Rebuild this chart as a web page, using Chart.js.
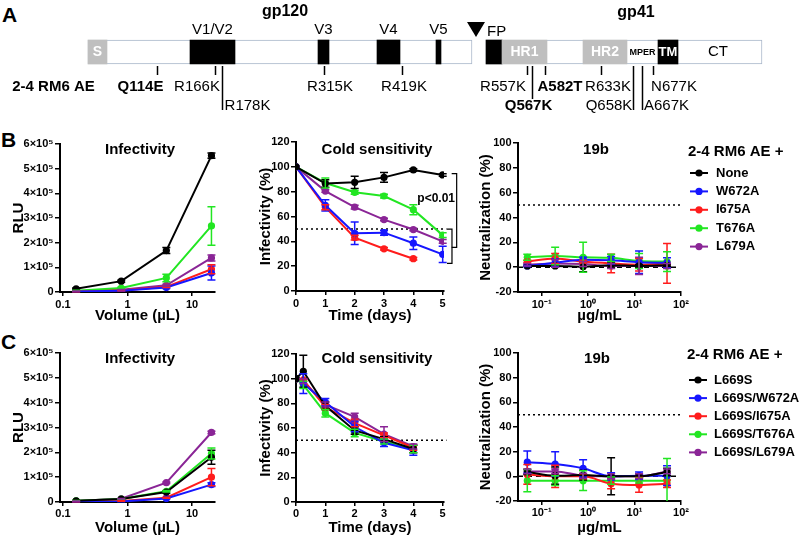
<!DOCTYPE html>
<html lang="en">
<head>
<meta charset="utf-8">
<title>2-4 RM6 AE Env variants</title>
<script src="https://cdn.jsdelivr.net/npm/chart.js@4.4.1/dist/chart.umd.min.js"></script>
<style>
  html, body { margin: 0; padding: 0; background: #fff; }
  #page { position: relative; width: 800px; height: 538px; overflow: hidden; font-family: "Liberation Sans", Arial, sans-serif; }
  .panel { position: absolute; }
  .letter { position: absolute; font-size: 21px; line-height: 21px; font-weight: bold; color: #000; }
</style>
</head>
<body>
<div id="page">
  <div class="letter" style="left:2px;top:4px">A</div>
  <div class="letter" style="left:1px;top:129px">B</div>
  <div class="letter" style="left:1px;top:331px">C</div>
</div>
<script>
const FONT = "'Liberation Sans', Arial, sans-serif";
Chart.defaults.font.family = FONT;
Chart.defaults.color = "#000";

// ---------- panel A: positions along the schematic env bar ----------
const subunits = ["gp120", "gp41"];
const subunitStart = [88, 486];
const subunitEnd = [472, 762];
const subunitLabelAt = [285, 636];
const domains = ["S", "V1/V2", "V3", "V4", "V5", "FP", "HR1", "HR2", "TM"];
const domainStart = [88, 190, 318, 377, 436, 486, 502, 583, 658];
const domainEnd = [107, 235, 329, 400, 441, 502, 547, 627, 678];
const mutations = ["Q114E", "R166K", "R178K", "R315K", "R419K", "R557K", "Q567K", "A582T", "R633K", "Q658K", "A667K", "N677K"];
const mutationSite = [157, 215, 222, 324, 402, 527, 532, 545, 601, 633, 642, 653];

// ---------- panels B and C ----------
const volumes = [0.16, 0.8, 4, 20];
const daysB = [0, 1, 2, 3, 4, 5];
const daysC = [0, 0.25, 1, 2, 3, 4];
const conc = [0.049, 0.195, 0.78, 3.125, 12.5, 50];

const rluTicks = [0, 1e5, 2e5, 3e5, 4e5, 5e5, 6e5];
const pctTicks = [0, 20, 40, 60, 80, 100, 120];
const dayTicks = [0, 1, 2, 3, 4, 5];
const neutTicks = [-20, 0, 20, 40, 60, 80, 100];
const volTicks = [0.1, 1, 10];
const concTicks = [0.1, 1, 10, 100];

const variantsB = ["None", "W672A", "I675A", "T676A", "L679A"];
const variantsC = ["L669S", "L669S/W672A", "L669S/I675A", "L669S/T676A", "L669S/L679A"];

// rows follow the variant order; *Err = error bar half length
const rluB = [
  [13000, 44000, 168000, 553000],
  [2000, 5000, 18000, 77000],
  [2000, 6000, 21000, 92000],
  [5000, 16000, 57000, 268000],
  [3000, 9000, 27000, 138000]
];
const rluBErr = [
  [3000, 4000, 12000, 11000],
  [1000, 1500, 4000, 28000],
  [1000, 1000, 3000, 18000],
  [2000, 3000, 15000, 78000],
  [1000, 1000, 4000, 12000]
];
const coldB = [
  [100, 86.5, 87.5, 91.5, 97.5, 93.5],
  [100, 69, 46.5, 47, 38.5, 29.5],
  [100, 67.5, 43, 34, 26, null],
  [100, 87, 79.5, 76.5, 65.5, 45],
  [100, 80.5, 67.5, 57.5, 49.5, 40]
];
const coldBErr = [
  [0, 3, 5, 4, 1, 1],
  [0, 4.5, 9, 2, 5, 6.5],
  [0, 2, 2, 1, 1, 0],
  [0, 4, 1.5, 1.5, 4, 2],
  [0, 1, 1.5, 1, 1, 1.5]
];
const neutB = [
  [1, 1, 0.3, 1.5, 1, 1.5],
  [1, 3.5, 6, 5.5, 4, 3.5],
  [4.5, 7, 4.5, 3, 2, 3],
  [8, 9, 8, 7.5, 5, 4.5],
  [2, 3, 2.5, 1, 1, 1]
];
const neutBErr = [
  [0.5, 1, 4, 2, 1, 1],
  [0.5, 3, 2, 3, 9, 4],
  [1, 4, 1, 7.5, 5, 16],
  [2.5, 7, 12, 3, 6, 8],
  [1, 3, 2, 2, 7, 2]
];
const rluC = [
  [5000, 12000, 40000, 180000],
  [1000, 2000, 14000, 70000],
  [2000, 4000, 17000, 100000],
  [5000, 12000, 43000, 195000],
  [4000, 13000, 78000, 280000]
];
const rluCErr = [
  [1000, 1000, 5000, 28000],
  [500, 500, 2000, 8000],
  [500, 1000, 2000, 35000],
  [1000, 1000, 3000, 22000],
  [500, 1000, 3000, 5000]
];
const coldC = [
  [100, 106, 78, 58, 51, 43],
  [100, 96, 81, 61, 48, 42],
  [100, 99, 77, 64, 54, 44],
  [100, 95, 72, 56, 49, 43],
  [100, 98, 79, 69, 55, 45]
];
const coldCErr = [
  [0, 13, 3, 3, 2, 3],
  [0, 8, 3, 4, 3, 4],
  [0, 1, 2, 3, 2, 2],
  [0, 3, 3, 3, 2, 3],
  [0, 2, 2, 3, 6, 2]
];
const neutC = [
  [3.5, 0.5, 1, 0, 0, 3.5],
  [11.5, 10, 6.5, 0, 0.5, 0.5],
  [1.5, 0, 0, -6, -7, -6],
  [-3.5, -3.5, -3.5, -3.5, -3.5, -3.5],
  [4, 4, 0.5, 0, 0, 4]
];
const neutCErr = [
  [2, 7, 4, 15, 2, 3],
  [9, 10, 7, 3, 3, 8],
  [8, 9, 2, 4, 6, 3],
  [9, 4, 8, 3, 2, 18],
  [2, 2, 2, 2, 2, 2]
];
const halfLevel = 50;
const baseLevel = 0;

// ---------- styles ----------
const COLORS = ["#000000", "#1616ff", "#ff1c1c", "#22e622", "#8a2596"];
const domainFill = { S: "#bfbfbf", HR1: "#bfbfbf", HR2: "#bfbfbf" };
const domainText = {
  S: { where: "in", color: "#fff", font: "bold 14px" },
  "V1/V2": { where: "above" }, V3: { where: "above" }, V4: { where: "above" }, V5: { where: "above" },
  FP: { where: "fp" },
  HR1: { where: "in", color: "#fff", font: "bold 14px" },
  HR2: { where: "in", color: "#fff", font: "bold 14px" },
  TM: { where: "in", color: "#fff", font: "bold 13px" }
};
// label offset from the tick, row 1 = long line with label below
const mutLabel = {
  Q114E: { dx: -17, bold: true }, R166K: { dx: -18.5 }, R178K: { dx: 25, row: 1 },
  R315K: { dx: 5.5 }, R419K: { dx: 1.5 }, R557K: { dx: -24.5 },
  Q567K: { dx: -4, row: 1, bold: true, under: true }, A582T: { dx: 14.5, bold: true },
  R633K: { dx: 6.5 }, Q658K: { dx: -24.5, row: 1 }, A667K: { dx: 24, row: 1 }, N677K: { dx: 20.5 }
};

function sup(n) {
  const m = { "-": "\u207B", "0": "\u2070", "1": "\u00B9", "2": "\u00B2", "3": "\u00B3", "4": "\u2074", "5": "\u2075", "6": "\u2076", "7": "\u2077", "8": "\u2078", "9": "\u2079" };
  return String(n).split("").map(c => m[c]).join("");
}

function addCanvas(left, top, right, bottom) {
  const div = document.createElement("div");
  div.className = "panel";
  div.style.left = left + "px";
  div.style.top = top + "px";
  div.style.width = (right - left) + "px";
  div.style.height = (bottom - top) + "px";
  const c = document.createElement("canvas");
  c.width = right - left;
  c.height = bottom - top;
  div.appendChild(c);
  document.getElementById("page").appendChild(div);
  return c;
}

// ---------- panel A ----------
const envText = {
  id: "envText",
  afterDatasetsDraw(chart) {
    const ctx = chart.ctx;
    const px = v => chart.scales.x.getPixelForValue(v);
    const yc = chart.scales.y.getPixelForValue(0);
    const barBot = yc + 12;
    ctx.save();
    ctx.fillStyle = "#000";
    ctx.textBaseline = "middle";
    ctx.textAlign = "center";

    ctx.font = "bold 16px " + FONT;
    subunits.forEach((s, i) => ctx.fillText(s, px(subunitLabelAt[i]), yc - 40 + i));

    domains.forEach((d, i) => {
      const st = domainText[d];
      const mid = px((domainStart[i] + domainEnd[i]) / 2);
      if (st.where === "above") {
        ctx.fillStyle = "#000"; ctx.font = "15px " + FONT;
        ctx.fillText(d, mid, yc - 22);
      } else if (st.where === "in") {
        ctx.fillStyle = st.color; ctx.font = st.font + " " + FONT;
        ctx.fillText(d, mid, yc);
      } else if (st.where === "fp") {
        ctx.fillStyle = "#000"; ctx.font = "15px " + FONT;
        ctx.textAlign = "left";
        ctx.fillText(d, px(domainStart[i]) + 1, yc - 20);
        ctx.textAlign = "center";
        // cleavage site between gp120 and gp41
        const cx = px(subunitEnd[0]) + 4;
        ctx.beginPath();
        ctx.moveTo(cx - 9, yc - 30); ctx.lineTo(cx + 9, yc - 30); ctx.lineTo(cx, yc - 15);
        ctx.closePath(); ctx.fill();
      }
    });
    // unboxed regions of gp41
    ctx.fillStyle = "#000";
    ctx.font = "bold 9px " + FONT;
    ctx.fillText("MPER", px((domainEnd[7] + domainStart[8]) / 2), yc + 1);
    ctx.font = "15px " + FONT;
    ctx.fillText("CT", px((domainEnd[8] + subunitEnd[1]) / 2) - 2, yc);

    // mutations
    ctx.font = "bold 15px " + FONT;
    ctx.fillText("2-4 RM6 AE", 53.5, barBot + 23);
    ctx.strokeStyle = "#000";
    ctx.lineWidth = 1.5;
    mutations.forEach((m, i) => {
      const st = mutLabel[m];
      const x = Math.round(px(mutationSite[i])) + 0.5;
      const end = st.row ? (st.under ? barBot + 35 : barBot + 46) : barBot + 11;
      ctx.beginPath(); ctx.moveTo(x, barBot + 2); ctx.lineTo(x, end); ctx.stroke();
      ctx.font = (st.bold ? "bold " : "") + "15px " + FONT;
      ctx.fillText(m, x + st.dx, st.row ? barBot + 42 : barBot + 23);
    });
    ctx.restore();
  }
};

new Chart(addCanvas(0, 0, 800, 120), {
  type: "bar",
  data: {
    labels: ["env"],
    datasets: [
      {
        label: "subunits",
        data: subunits.map((s, i) => ({ x: [subunitStart[i], subunitEnd[i]], y: "env" })),
        backgroundColor: "#ffffff",
        borderColor: "#a9b7ca",
        borderWidth: 1,
        borderSkipped: false,
        barThickness: 24,
        grouped: false,
        order: 2
      },
      {
        label: "domains",
        data: domains.map((d, i) => ({ x: [domainStart[i], domainEnd[i]], y: "env" })),
        backgroundColor: domains.map(d => domainFill[d] || "#000000"),
        borderWidth: 0,
        barThickness: 24,
        grouped: false,
        order: 1
      }
    ]
  },
  options: {
    indexAxis: "y",
    responsive: false,
    animation: false,
    layout: { padding: { left: 0, right: 0, top: 0, bottom: 16 } },
    scales: {
      x: { type: "linear", min: 0, max: 800, display: false },
      y: { display: false }
    },
    plugins: { legend: { display: false }, tooltip: { enabled: false } }
  },
  plugins: [envText]
});

// ---------- plugins for the line panels ----------
const errorBars = {
  id: "errorBars",
  afterDatasetsDraw(chart) {
    const ctx = chart.ctx, y = chart.scales.y, area = chart.chartArea;
    chart.data.datasets.forEach((ds, i) => {
      if (!ds.errors) return;
      const meta = chart.getDatasetMeta(i);
      ctx.save();
      ctx.strokeStyle = ds.borderColor;
      ctx.lineWidth = 1.5;
      meta.data.forEach((pt, j) => {
        const e = ds.errors[j], v = ds.data[j].y;
        if (!e || v == null) return;
        const top = y.getPixelForValue(v + e);
        const bot = Math.min(y.getPixelForValue(v - e), area.bottom);
        ctx.beginPath();
        ctx.moveTo(pt.x, top); ctx.lineTo(pt.x, bot);
        ctx.moveTo(pt.x - 4, top); ctx.lineTo(pt.x + 4, top);
        if (bot < area.bottom) { ctx.moveTo(pt.x - 4, bot); ctx.lineTo(pt.x + 4, bot); }
        ctx.stroke();
      });
      ctx.restore();
    });
  }
};

const panelTitle = {
  id: "panelTitle",
  afterDraw(chart, args, o) {
    const a = chart.chartArea, ctx = chart.ctx;
    ctx.save();
    ctx.font = "bold 15px " + FONT;
    ctx.fillStyle = "#000";
    ctx.textAlign = "center";
    ctx.textBaseline = "middle";
    ctx.fillText(o.text, (a.left + a.right) / 2 + o.dx, a.top + o.dy);
    ctx.restore();
  }
};

const sideLegend = {
  id: "sideLegend",
  afterDraw(chart, args, o) {
    const a = chart.chartArea, ctx = chart.ctx;
    ctx.save();
    ctx.textAlign = "left";
    ctx.textBaseline = "middle";
    ctx.fillStyle = "#000";
    ctx.font = "bold 15px " + FONT;
    ctx.fillText(o.title, a.right + o.titleX, a.top + o.titleY);
    ctx.font = "bold 13px " + FONT;
    chart.data.datasets.filter(d => d.legendItem).forEach((d, i) => {
      const y = a.top + o.firstY + i * o.step;
      const x0 = a.right + o.titleX + 2;
      ctx.strokeStyle = d.borderColor;
      ctx.lineWidth = 2;
      ctx.beginPath(); ctx.moveTo(x0, y); ctx.lineTo(x0 + 18, y); ctx.stroke();
      ctx.fillStyle = d.borderColor;
      ctx.beginPath(); ctx.arc(x0 + 9, y, 3.6, 0, Math.PI * 2); ctx.fill();
      ctx.fillStyle = "#000";
      ctx.fillText(d.label, a.right + o.textX, y);
    });
    ctx.restore();
  }
};

const brackets = {
  id: "brackets",
  afterDraw(chart, args, o) {
    const ctx = chart.ctx, x = chart.scales.x, y = chart.scales.y;
    ctx.save();
    ctx.strokeStyle = "#000";
    ctx.lineWidth = 1.2;
    o.items.forEach(it => {
      const px = x.getPixelForValue(it.at);
      const y0 = y.getPixelForValue(it.from), y1 = y.getPixelForValue(it.to);
      ctx.beginPath();
      ctx.moveTo(px - 5, y0); ctx.lineTo(px, y0); ctx.lineTo(px, y1); ctx.lineTo(px - 5, y1);
      ctx.stroke();
    });
    ctx.font = "bold 12px " + FONT;
    ctx.fillStyle = "#000";
    ctx.textAlign = "right";
    ctx.textBaseline = "middle";
    ctx.fillText(o.text, x.getPixelForValue(o.textAt), y.getPixelForValue(o.textLevel));
    ctx.restore();
  }
};

function series(names, xs, ys, errs, smooth) {
  return names.map((name, k) => ({
    label: name,
    legendItem: true,
    data: xs.map((x, i) => ({ x, y: ys[k][i] })),
    errors: errs[k],
    borderColor: COLORS[k],
    backgroundColor: COLORS[k],
    pointBackgroundColor: COLORS[k],
    pointBorderWidth: 0,
    pointRadius: 3.6,
    borderWidth: 2,
    cubicInterpolationMode: smooth ? "monotone" : "default"
  }));
}

function refLine(level, x0, x1, dash) {
  return {
    data: [{ x: x0, y: level }, { x: x1, y: level }],
    borderColor: "#000",
    borderWidth: 1.5,
    borderDash: dash,
    pointRadius: 0,
    clip: false,
    order: 10
  };
}

function plot(c) {
  // c.area = plot rectangle on the page, c.box = canvas rectangle on the page
  const [l, t, r, b] = c.area;
  const [L, T, R, B] = c.box;
  const tickFont = { size: 11, weight: "bold" };
  const titleFont = { size: 15, weight: "bold", lineHeight: 1.2 };
  return new Chart(addCanvas(L, T, R, B), {
    type: "line",
    data: { datasets: c.datasets },
    options: {
      responsive: false,
      animation: false,
      layout: { padding: { left: 0, top: t - T, right: R - r, bottom: 0 } },
      scales: {
        x: {
          type: c.xType, min: c.xMin, max: c.xMax,
          afterBuildTicks: s => { s.ticks = c.xTicks.map(v => ({ value: v })); },
          afterFit: s => { s.height = B - b; },
          grid: { display: true, drawOnChartArea: false, drawTicks: true, tickLength: 4, color: "#000", lineWidth: 1.5 },
          border: { display: true, color: "#000", width: 2 },
          ticks: { callback: c.xFmt, font: tickFont, color: "#000", padding: c.xPad, maxRotation: 0, autoSkip: false },
          title: { display: true, text: c.xTitle, font: titleFont, color: "#000", padding: { top: 0, bottom: B - c.xTitleY - 9 } }
        },
        y: {
          type: "linear", min: c.yMin, max: c.yMax,
          afterBuildTicks: s => { s.ticks = c.yTicks.map(v => ({ value: v })); },
          afterFit: s => { s.width = l - L; },
          grid: { display: true, drawOnChartArea: false, drawTicks: true, tickLength: 5, color: "#000", lineWidth: 1.5 },
          border: { display: true, color: "#000", width: 2 },
          ticks: { callback: c.yFmt, font: tickFont, color: "#000", padding: 1.5 },
          title: { display: true, text: c.yTitle, font: titleFont, color: "#000", padding: { top: c.yTitleX - L - 9, bottom: 0 } }
        }
      },
      plugins: {
        legend: { display: false },
        tooltip: { enabled: false },
        panelTitle: c.title,
        sideLegend: c.legend || false,
        brackets: c.brackets || false
      }
    },
    plugins: [errorBars, panelTitle, sideLegend, brackets]
  });
}

const rluFmt = v => v === 0 ? "0" : (v / 1e5) + "\u00D710" + sup(5);
const numFmt = v => String(v);
const powFmt = v => "10" + sup(Math.round(Math.log10(v)));

const infAxes = {
  xType: "logarithmic", xMin: 0.09, xMax: 22.7, xTicks: volTicks, xFmt: numFmt, xTitle: "Volume (\u00B5L)",
  yMin: 0, yMax: 6e5, yTicks: rluTicks, yFmt: rluFmt, yTitle: "RLU", yTitleX: 19
};
const coldAxes = {
  xType: "linear", xMin: 0, xMax: 5.045, xTicks: dayTicks, xFmt: numFmt, xTitle: "Time (days)",
  yMin: 0, yMax: 120, yTicks: pctTicks, yFmt: numFmt, yTitle: "Infectivity (%)", yTitleX: 266
};
const neutAxes = {
  xType: "logarithmic", xMin: 0.0309, xMax: 100, xTicks: concTicks, xFmt: powFmt, xTitle: "\u00B5g/mL",
  yMin: -20, yMax: 100, yTicks: neutTicks, yFmt: numFmt, yTitle: "Neutralization (%)", yTitleX: 486
};

// ---------- row B ----------
plot(Object.assign({}, infAxes, {
  area: [60, 144, 215, 292], box: [0, 129, 227, 325], xPad: 2, xTitleY: 316,
  title: { text: "Infectivity", dx: 2.5, dy: 6 },
  datasets: series(variantsB, volumes, rluB, rluBErr, false)
}));
plot(Object.assign({}, coldAxes, {
  area: [296, 142, 444, 291], box: [255, 127, 466, 325], xPad: 2, xTitleY: 316,
  title: { text: "Cold sensitivity", dx: 7, dy: 8 },
  brackets: { items: [{ at: 5.477, from: 94.5, to: 35.2 }, { at: 5.317, from: 49.8, to: 22.3 }], text: "p<0.01", textAt: 5.42, textLevel: 74.5 },
  datasets: series(variantsB, daysB, coldB, coldBErr, false).concat([refLine(halfLevel, 0, 5.13, [2, 3])])
}));
plot(Object.assign({}, neutAxes, {
  area: [518, 143, 681, 292], box: [475, 129, 800, 325], xPad: 2, xTitleY: 316,
  title: { text: "19b", dx: -3.5, dy: 7 },
  legend: { title: "2-4 RM6 AE +", titleX: 7, titleY: 9, firstY: 30, step: 18.4, textX: 35 },
  datasets: series(variantsB, conc, neutB, neutBErr, true).concat([
    refLine(halfLevel, 0.0309, 100, [2, 3]),
    refLine(baseLevel, 0.0309, 78, [5, 4])
  ])
}));

// ---------- row C ----------
plot(Object.assign({}, infAxes, {
  area: [60, 353, 215, 502], box: [0, 338, 227, 538], xPad: 1, xTitleY: 528,
  title: { text: "Infectivity", dx: 2.5, dy: 6 },
  datasets: series(variantsC, volumes, rluC, rluCErr, false)
}));
plot(Object.assign({}, coldAxes, {
  area: [296, 354, 444, 502], box: [255, 338, 466, 538], xPad: 1, xTitleY: 528,
  title: { text: "Cold sensitivity", dx: 7, dy: 5 },
  datasets: series(variantsC, daysC, coldC, coldCErr, false).concat([refLine(halfLevel, 0, 5.13, [2, 3])])
}));
plot(Object.assign({}, neutAxes, {
  area: [518, 353, 681, 501], box: [475, 338, 800, 538], xPad: 1, xTitleY: 528,
  title: { text: "19b", dx: -2.5, dy: 6 },
  legend: { title: "2-4 RM6 AE +", titleX: 6, titleY: 2, firstY: 27, step: 18.1, textX: 33 },
  datasets: series(variantsC, conc, neutC, neutCErr, true).concat([
    refLine(halfLevel, 0.0309, 100, [2, 3]),
    refLine(baseLevel, 0.0309, 78, [5, 4])
  ])
}));
</script>
</body>
</html>
